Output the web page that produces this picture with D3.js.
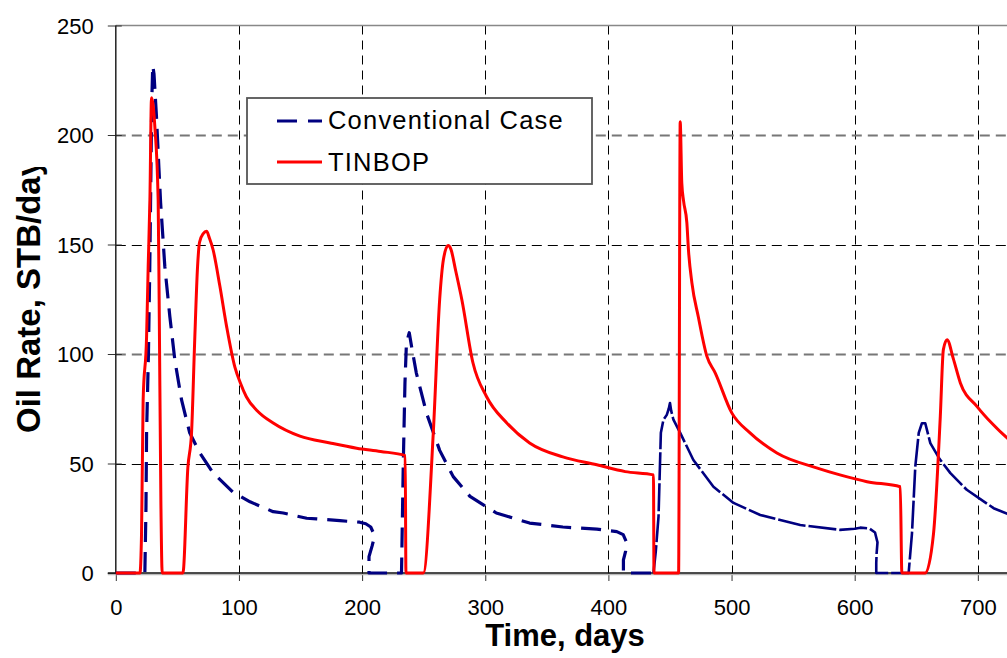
<!DOCTYPE html>
<html>
<head>
<meta charset="utf-8">
<script src="https://cdn.jsdelivr.net/npm/d3@7"></script>
<style>
body { margin: 0; background: #fff; }
text { font-family: "Liberation Sans", Arial, sans-serif; fill: #000; }
</style>
</head>
<body>
<div class="container"></div>
<script>
const WIDTH = 1007;
const HEIGHT = 658;
const X0 = 115.8;
const PX_PER_DAY = 1.2315;
const Y_TOP = 25.5;
const Y_BOTTOM = 573;
const SPLIT_DAY = 436.6; // blue line is drawn almost solid after this day

var xTicks = [0, 100, 200, 300, 400, 500, 600, 700];
var yTicks = [0, 50, 100, 150, 200, 250];
var seriesNames = ["Conventional Case", "TINBOP"];

// Conventional case (days, STB/day)
var convDays = [0, 23.6, 24.5, 25, 26.5, 27.6, 28.4, 29.2, 30, 31, 33, 35, 36.4, 39.8, 43.9, 48, 53.4, 60, 68, 79, 95, 109, 127.8, 136, 155, 163, 182, 198, 203, 207, 209, 209.3, 208.2, 205.6, 205.6,
    232, 233.4, 234.8, 236, 238.3, 240, 244, 252.3, 263, 274, 287.6, 309, 336, 363, 390.6, 406.8, 412, 415, 414, 412.2, 412.2,
    436.6, 438.5, 440.7, 442.6, 444.7, 447.4, 449, 450, 451, 452.8, 458.3, 469, 485.3, 501.6, 523.3, 555.8, 588, 600, 604.5, 612, 616.5, 618.5, 617.8, 617.5, 617.5,
    643.8, 646.5, 649.2, 652, 654.6, 657.3, 661.4, 669, 677.7, 691, 712.8, 724, 735];
var convRate = [0, 0, 30, 64, 100, 140, 178, 215, 231.7, 228, 208.6, 185, 169, 140, 117, 97, 79, 64, 55, 45.7, 37, 32.5, 28, 27.4, 25, 24.7, 23.9, 23.2, 22.5, 21, 18.5, 15, 12.5, 7.5, 0,
    0, 48.6, 86.8, 105, 109.7, 104, 91.4, 73, 56, 44, 35, 27.4, 22.8, 21, 20, 18.9, 17.5, 13.7, 10, 6, 0,
    0, 10, 25.7, 64, 70, 72.2, 75, 77.6, 74, 70, 64, 51.6, 39.4, 32, 26.5, 21.9, 19.7, 20.2, 20.7, 20.3, 18.5, 14, 9, 4.6, 0,
    0, 18, 48.6, 64, 68.4, 68.4, 59.3, 52, 45.6, 38, 29.6, 27, 24];

// TINBOP (days, STB/day)
var tinbopDays = [0, 19.6, 20.9, 22.2, 25, 26.3, 27.7, 29, 31.8, 34.4, 35.2, 36.6, 37.7,
    54.5, 58.5, 61.5, 64, 66.4, 68, 71, 73.7, 76, 79, 84.5, 90, 96.7, 101, 106, 115, 127.8, 149.5, 174, 195.6, 215, 235, 235.6,
    249.7, 257.8, 263, 266, 269.8, 272, 276, 281, 290, 301, 317.5, 336, 363, 390.6, 413.6, 436.6, 437,
    457, 458.3, 459.6, 461, 463.7, 465, 467.8, 473, 480, 486.7, 500.3, 515, 536.8, 569, 588, 610, 637, 638.3,
    657.3, 664, 669.5, 672, 675, 680, 685.8, 699.4, 712, 723.7, 735];
var tinbopRate = [0, 0, 18, 79, 108, 140, 170.5, 217, 203, 170, 125, 33, 0,
    0, 48, 64, 105, 140, 151, 155, 156, 153, 147.6, 131, 112.5, 94, 87, 80.5, 74, 68.5, 62.5, 59.4, 57, 55.5, 53.6, 0,
    0, 64, 125, 143, 149.5, 148, 138, 124.8, 96, 80.6, 68.5, 59.4, 53, 49.4, 46.3, 44.8, 0,
    0, 206, 178, 170, 160, 147.6, 132.5, 117, 98.9, 91.4, 73, 64, 54.8, 48, 44.8, 41.7, 39.4, 0,
    0, 18, 71.4, 102, 106.5, 98, 86.8, 76, 68, 61.7, 57];

var svg = d3.select('.container').append('svg')
    .attr('width', WIDTH)
    .attr('height', HEIGHT);

var xScale = d3.scaleLinear().domain([0, 800]).range([X0, X0 + 800 * PX_PER_DAY]);
var yScale = d3.scaleLinear().domain([0, 250]).range([Y_BOTTOM, Y_TOP]);

// gridlines
svg.append('g').selectAll('line')
    .data(xTicks.slice(1))
    .enter().append('line')
    .attr('x1', d => Math.round(xScale(d)) + 0.5)
    .attr('x2', d => Math.round(xScale(d)) + 0.5)
    .attr('y1', yScale(250))
    .attr('y2', yScale(0))
    .attr('stroke', '#000')
    .attr('stroke-dasharray', '9,6');

svg.append('g').selectAll('line')
    .data(yTicks.slice(1, -1))
    .enter().append('line')
    .attr('x1', X0)
    .attr('x2', WIDTH)
    .attr('y1', d => Math.round(yScale(d)) + 0.5)
    .attr('y2', d => Math.round(yScale(d)) + 0.5)
    .attr('stroke', (d, i) => i % 2 ? '#777' : '#000')
    .attr('stroke-width', (d, i) => i % 2 ? 1.8 : 1)
    .attr('stroke-dasharray', '10,6');

// top border of plot area
svg.append('line')
    .attr('x1', X0).attr('x2', WIDTH)
    .attr('y1', yScale(250)).attr('y2', yScale(250))
    .attr('stroke', '#888').attr('stroke-width', 1.5);

// axes
var xAxis = d3.axisBottom(xScale).tickValues(xTicks).tickSize(8).tickSizeOuter(0);
var yAxis = d3.axisLeft(yScale).tickValues(yTicks).tickSize(8).tickSizeOuter(0);

var gx = svg.append('g')
    .attr('transform', 'translate(0,' + Y_BOTTOM + ')')
    .call(xAxis);
gx.select('.domain').remove();
gx.selectAll('line').attr('stroke', '#333');
gx.selectAll('text')
    .attr('y', 42).attr('dy', null)
    .style('font-size', '22px');

var gy = svg.append('g')
    .attr('transform', 'translate(' + X0 + ',0)')
    .call(yAxis);
gy.select('.domain').remove();
gy.selectAll('line').attr('x2', 6).attr('x1', -8).attr('stroke', '#333');
gy.selectAll('text')
    .attr('x', -22).attr('dy', '0.36em')
    .style('font-size', '22px');

svg.append('line')
    .attr('x1', X0).attr('x2', X0)
    .attr('y1', yScale(250)).attr('y2', yScale(0))
    .attr('stroke', '#222').attr('stroke-width', 1.5);
svg.append('line')
    .attr('x1', X0 - 8).attr('x2', WIDTH)
    .attr('y1', yScale(0) + 1.5).attr('y2', yScale(0) + 1.5)
    .attr('stroke', '#bbb').attr('stroke-width', 1.5);
svg.append('line')
    .attr('x1', X0 - 8).attr('x2', WIDTH)
    .attr('y1', yScale(0)).attr('y2', yScale(0))
    .attr('stroke', '#111').attr('stroke-width', 1.5);

// series
var convLine = d3.line()
    .x(d => xScale(d[0]))
    .y(d => yScale(d[1]));
var tinbopLine = d3.line()
    .curve(d3.curveMonotoneX)
    .x(d => xScale(d[0]))
    .y(d => yScale(d[1]));

var convPts = convDays.map((d, i) => [d, convRate[i]]);
var splitIdx = convDays.indexOf(SPLIT_DAY);
var convEarly = convPts.slice(0, splitIdx + 1);
var convLate = convPts.slice(splitIdx);
var tinbopPts = tinbopDays.map((d, i) => [d, tinbopRate[i]]);

svg.append('path')
    .attr('d', convLine(convEarly))
    .attr('fill', 'none')
    .attr('stroke', '#000080')
    .attr('stroke-width', 3.2)
    .attr('stroke-linejoin', 'round')
    .attr('stroke-dasharray', '20,10');

svg.append('path')
    .attr('d', convLine(convLate))
    .attr('fill', 'none')
    .attr('stroke', '#000080')
    .attr('stroke-width', 2.6)
    .attr('stroke-linejoin', 'round')
    .attr('stroke-dasharray', '28,3');

svg.append('path')
    .attr('d', tinbopLine(tinbopPts))
    .attr('fill', 'none')
    .attr('stroke', '#ff0000')
    .attr('stroke-width', 3)
    .attr('stroke-linejoin', 'round');

// legend
var lg = svg.append('g');
lg.append('rect')
    .attr('x', 247).attr('y', 98)
    .attr('width', 345).attr('height', 86)
    .attr('fill', '#fff')
    .attr('stroke', '#555')
    .attr('stroke-width', 1.8);
var legendY = [121, 162];
var legendText = [129, 171];
var legendStyles = [
    { color: '#000080', dash: '20,11', width: 3.2 },
    { color: '#ff0000', dash: null, width: 3 }
];
seriesNames.forEach(function (name, i) {
    lg.append('line')
        .attr('x1', 277).attr('x2', 322)
        .attr('y1', legendY[i]).attr('y2', legendY[i])
        .attr('stroke', legendStyles[i].color)
        .attr('stroke-width', legendStyles[i].width)
        .attr('stroke-dasharray', legendStyles[i].dash);
    lg.append('text')
        .attr('x', 328).attr('y', legendText[i])
        .style('font-size', '25.5px')
        .style('letter-spacing', '1.2px')
        .text(name);
});

// axis titles
svg.append('text')
    .attr('x', 565).attr('y', 646)
    .attr('text-anchor', 'middle')
    .style('font-size', '31px')
    .style('font-weight', 'bold')
    .text('Time, days');

svg.append('clipPath').attr('id', 'ylab-clip')
    .append('rect').attr('x', 0).attr('y', 167).attr('width', 80).attr('height', 400);
svg.append('g')
    .attr('clip-path', 'url(#ylab-clip)')
    .append('text')
    .attr('transform', 'translate(40,433) rotate(-90)')
    .style('font-size', '33px')
    .style('font-weight', 'bold')
    .text('Oil Rate, STB/day');
</script>
</body>
</html>
